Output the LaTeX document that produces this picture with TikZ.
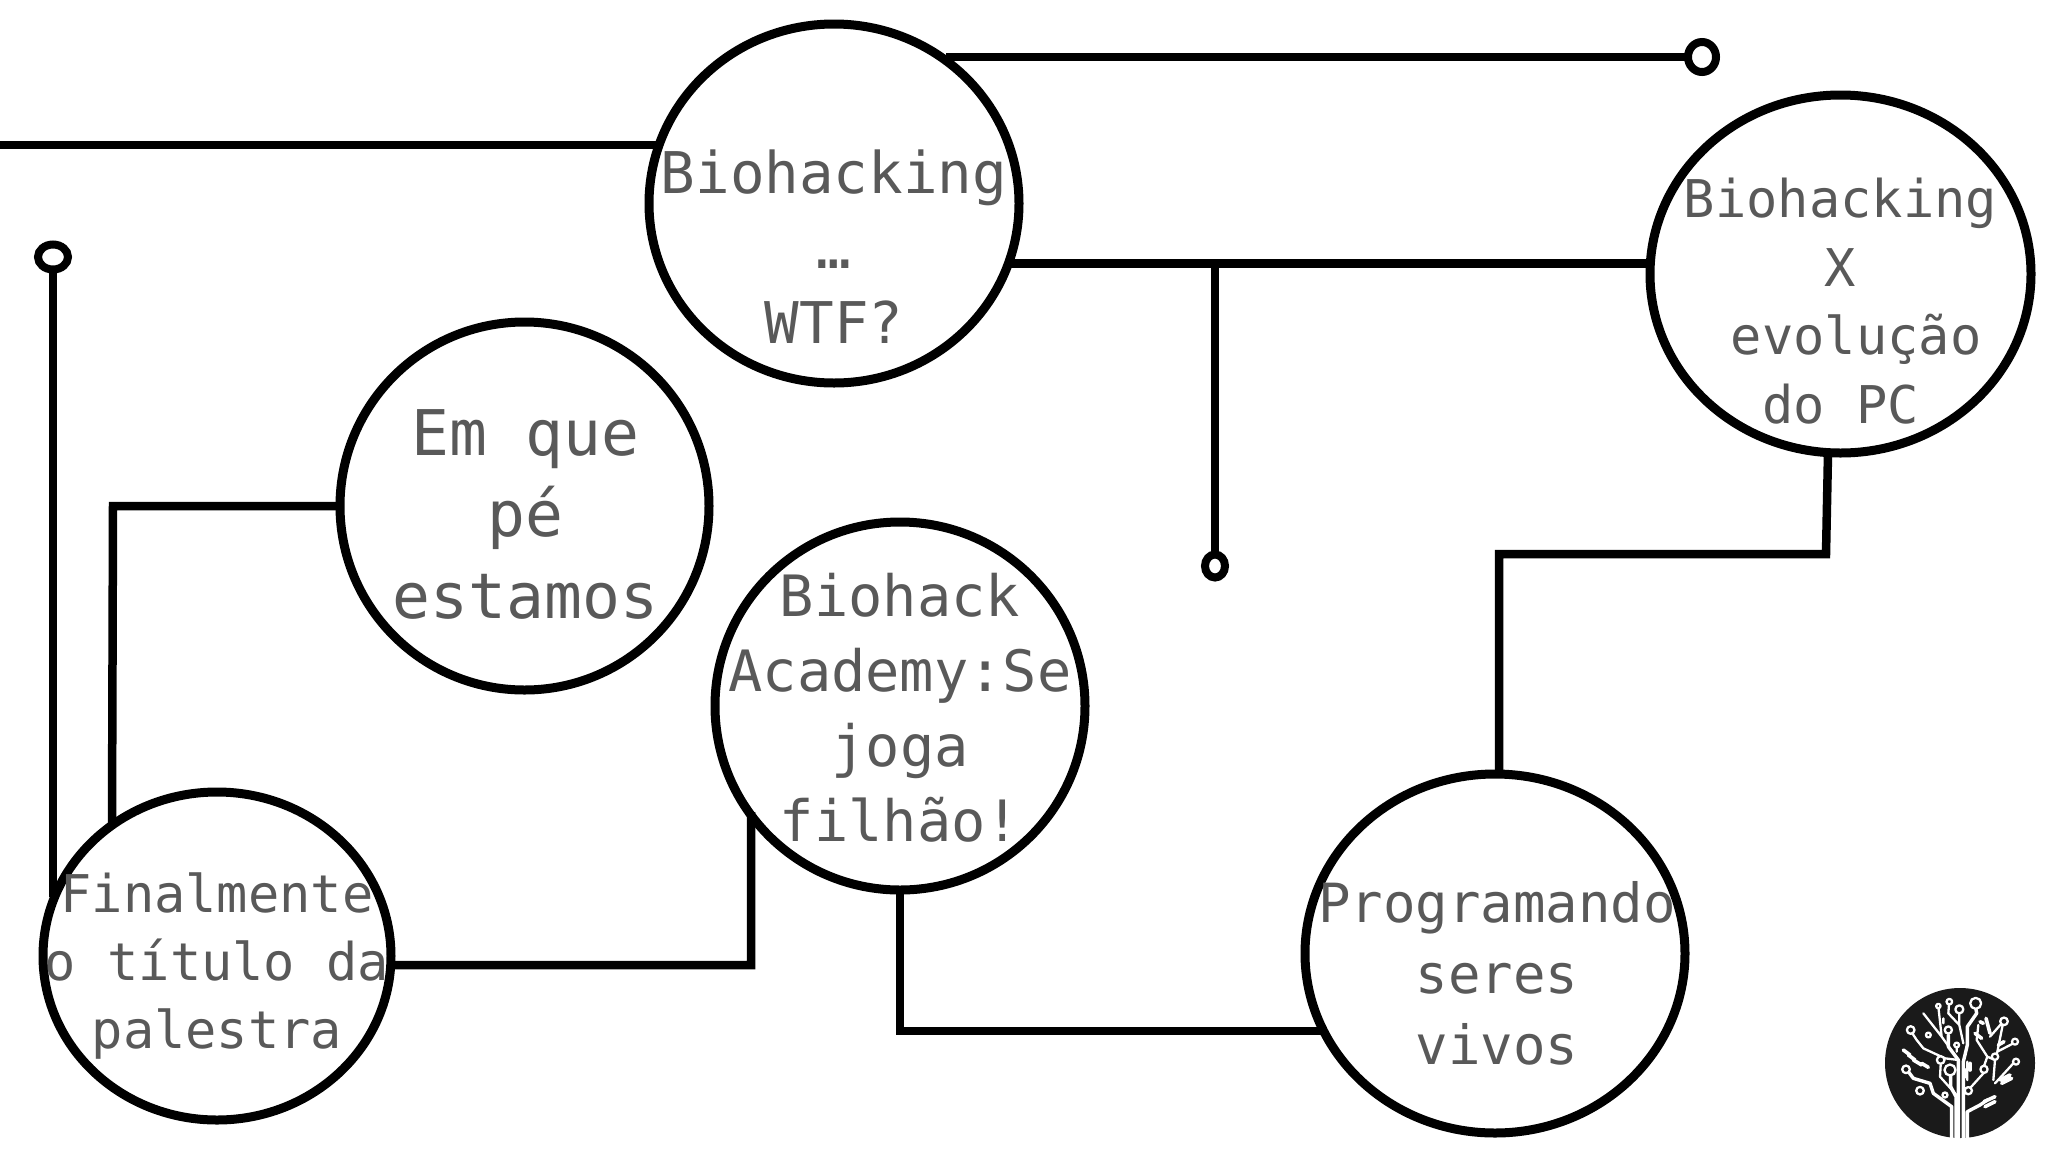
\documentclass[tikz,border=0pt]{standalone}
\usepackage{fontspec}
\setmainfont{DejaVu Sans Mono}
\usetikzlibrary{shapes.geometric}
\definecolor{labelgrey}{HTML}{595959}
\definecolor{logoblack}{HTML}{1A1A1A}
\newcommand{\circletext}[5][0]{\makebox[0pt]{\hspace*{#1pt}\smash{\raisebox{#2pt}{\fontsize{#3}{#4}\selectfont\color{labelgrey}\begin{tabular}[t]{@{}c@{}}#5\end{tabular}}}}}
\tikzset{
  topic/.style={ellipse,draw=black,line width=9pt,inner sep=0pt,outer sep=0pt},
  wire/.style={draw=black,line width=8.5pt,line join=miter},
  terminal/.style={ellipse,draw=black,line width=8pt,inner sep=0pt,outer sep=0pt,fill=white},
  logotrace/.style={draw=white,line width=2.3pt,line join=round,line cap=round},
  logochip/.style={draw=white,line width=3.6pt,line cap=round}
}
\begin{document}
\begin{tikzpicture}[x=1pt,y=-1pt]
\useasboundingbox (0,0) rectangle (2048,1152);
\fill[white] (0,0) rectangle (2048,1152);
% topics
\node[topic,minimum width=370pt,minimum height=359pt] (bio) at (834,203.5) {\circletext{10.5}{57.5}{75}{Biohacking\\…\\WTF?}};
\node[topic,minimum width=369pt,minimum height=368pt] (pe) at (524.5,506) {\circletext[2]{51}{63}{81.7}{Em que\\pé\\estamos}};
\node[topic,minimum width=370pt,minimum height=368pt] (academy) at (900,706) {\circletext[0]{90}{57}{75.3}{Biohack\\Academy:Se\\joga\\filhão!}};
\node[topic,minimum width=348pt,minimum height=328pt] (titulo) at (217,956) {\circletext{44}{52}{68}{Finalmente\\o título da\\palestra}};
\node[topic,minimum width=380pt,minimum height=359pt] (prog) at (1495,953.5) {\circletext[4]{31.5}{54}{71}{Programando\\seres\\vivos}};
\node[topic,minimum width=381pt,minimum height=358pt] (pc) at (1840.5,274) {\circletext{56.5}{52}{68.5}{Biohacking\\X\\\hspace*{0.6em}evolução\\do PC}};
% terminals
\node[terminal,minimum width=28pt,minimum height=30pt] (t1) at (1702,57) {};
\node[terminal,minimum width=30pt,minimum height=25pt] (t2) at (53,257) {};
\node[terminal,minimum width=20pt,minimum height=23pt] (t3) at (1215,566) {};
% free ends and bends
\coordinate (start) at (0,145);
\coordinate (b1) at (113,506);
\coordinate (b1d) at (112,823);
\coordinate (b2) at (751,965);
\coordinate (b2u) at (751,812);
\coordinate (b3) at (900,1031);
\coordinate (b3r) at (1322,1031);
\coordinate (b4) at (1826,554);
\coordinate (b4l) at (1499,554);
\coordinate (t2e) at (53,897);
% connectors
\draw[wire] (start) -- (start -| bio.161.9);
\draw[wire] (t1.west -| bio.52.4) -- (t1.west);
\draw[wire] (bio.-19) -- (pc.west |- bio.-19);
\draw[wire] (t3.north |- bio.-19) -- (t3.north);
\draw[wire] (t2.south) -- (t2e);
\draw[wire] (pe.west) -- (b1) -- (b1d);
\draw[wire] (titulo.-3.5) -- (b2) -- (b2u);
\draw[wire] (academy.south) -- (b3) -- (b3r);
\draw[wire] (pc.south -| 1828,0) -- (b4) -- (b4l) -- (b4l |- prog.north);
% logo
\fill[logoblack] (1960,1063) circle[radius=75pt];
\begin{scope}[shift={(1880,980)},x=0.3333pt,y=-0.3333pt]
\draw[logotrace,line width=3.4pt]
  (250,475)--(250,245)--(262,195)--(262,140)--(290,100)--(287,82)
  (228,475)--(228,350)--(212,320)--(212,285)
  (235,475)--(235,240)--(205,200)--(205,165)
  (215,475)--(215,380)--(160,340)--(150,310)--(100,295)--(85,275)
  (262,475)--(262,395)--(300,375)--(322,360);
\draw[logotrace]
  (235,240)--(195,235)--(130,205)--(110,180)--(97,160)
  (182,255)--(180,290)--(225,340)
  (235,240)--(185,170)--(175,80)
  (185,170)--(130,100)
  (250,190)--(238,135)--(238,100)
  (238,135)--(205,100)--(207,72)
  (250,345)--(265,330)--(312,278)
  (312,258)--(322,230)--(290,180)--(295,135)
  (322,230)--(345,240)
  (262,245)--(262,300)
  (345,240)--(352,215)--(368,135)
  (330,170)--(365,130)
  (352,215)--(400,190)
  (340,300)--(345,240)
  (345,310)--(400,250)
  (230,215)--(230,190)
  (190,130)--(190,115);
\foreach \x/\y/\r in {287/70/5.5,238/88/4,208/65/2.8,205/150/3.6,92/150/3.8,182/240/3.8,210/270/5.5,78/268/3.8,120/332/3.8,195/345/2.5,265/332/3.6,312/268/3.6,345/230/3.2,372/124/3.8,405/185/3,408/245/3,145/165/2.4,175/78/2.2,230/195/2.4}
  {\draw[logotrace,fill=logoblack] (\x,\y) circle[radius=\r pt];}
\draw[logochip] (70,210)--(90,225) (85,225)--(105,240) (100,240)--(125,255) (125,250)--(145,262);
\draw[logochip] (360,300)--(390,285) (365,310)--(395,295);
\draw[logochip] (318,115)--(330,160) (300,125)--(310,130) (285,160)--(305,175);
\draw[logochip] (312,365)--(345,350) (315,380)--(345,365);
\draw[logochip] (258,290)--(258,270) (270,270)--(270,250);
\draw[logochip] (355,195)--(372,185);
\end{scope}
\end{tikzpicture}
\end{document}
